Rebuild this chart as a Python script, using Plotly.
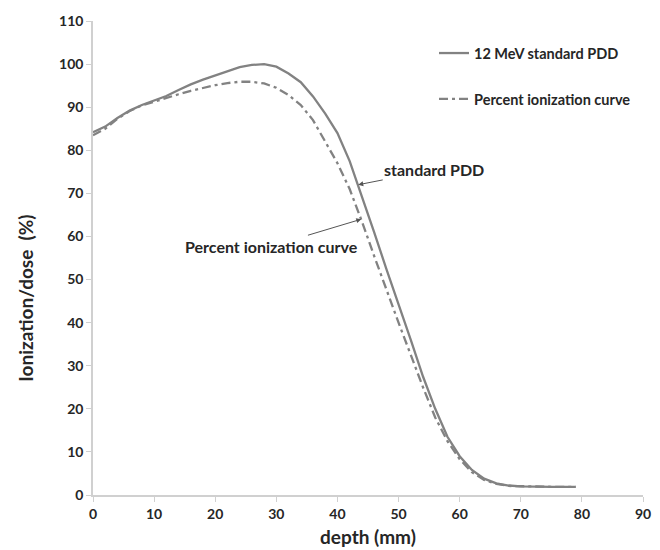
import plotly.graph_objects as go

depth = [0, 2, 4, 6, 8, 10, 12, 14, 16, 18, 20, 22, 24, 26, 28, 30, 32, 34, 36, 38,
         40, 42, 44, 46, 48, 50, 52, 54, 56, 58, 60, 62, 64, 66, 68, 70, 72, 75, 79]
pdd = [84.2, 85.5, 87.5, 89.2, 90.5, 91.5, 92.6, 94.0, 95.3, 96.4, 97.4, 98.4, 99.3, 99.8,
       100.0, 99.4, 97.8, 95.8, 92.5, 88.5, 84.0, 77.5, 69.5, 61.0, 52.5, 44.5, 36.0, 27.5,
       20.0, 13.5, 9.0, 5.8, 3.8, 2.7, 2.2, 2.0, 1.9, 1.9, 1.9]
ionization = [83.5, 85.0, 87.3, 89.1, 90.4, 91.3, 92.2, 93.0, 93.8, 94.5, 95.1, 95.6, 95.9,
              95.9, 95.5, 94.5, 92.8, 90.5, 87.0, 82.0, 77.0, 71.0, 63.5, 55.5, 47.5, 40.0,
              32.5, 25.0, 18.0, 12.5, 8.3, 5.3, 3.5, 2.6, 2.1, 2.0, 1.9, 1.9, 1.9]

x_ticks = [0, 10, 20, 30, 40, 50, 60, 70, 80, 90]
y_ticks = [0, 10, 20, 30, 40, 50, 60, 70, 80, 90, 100, 110]

FONT = "Lato"
TXT = "#262626"
LINE = "#828282"

fig = go.Figure()
fig.add_trace(go.Scatter(x=depth, y=pdd, mode="lines", name="12 MeV standard PDD",
                         legendgroup="a",
                         line=dict(color=LINE, width=2.3)))
fig.add_trace(go.Scatter(x=depth, y=ionization, mode="lines", name="Percent ionization curve",
                         legendgroup="b",
                         line=dict(color=LINE, width=2.3, dash="9px,4px,3px,4px")))

fig.add_annotation(x=43.4, y=72, ax=76, ay=-15, text="standard PDD", showarrow=True,
                   arrowhead=2, arrowsize=1, arrowwidth=1, arrowcolor="#555",
                   font=dict(family=FONT, size=16, color=TXT, weight="bold"))
fig.add_annotation(x=43.9, y=64, ax=-90, ay=27, text="Percent ionization curve",
                   showarrow=True, arrowhead=2, arrowsize=1, arrowwidth=1, arrowcolor="#555",
                   font=dict(family=FONT, size=16, color=TXT, weight="bold"))
# y-axis title (placed like the original, below the axis centre)
fig.add_annotation(xref="paper", yref="paper", x=-0.122, y=0.416, xanchor="center",
                   yanchor="middle", textangle=-90, showarrow=False,
                   text="Ionization/dose  (%)",
                   font=dict(family=FONT, size=19, color=TXT, weight="bold"))

axis_common = dict(showline=True, linecolor="#d0d0d0", linewidth=1.5, showgrid=False,
                   zeroline=False, ticks="outside", tickcolor="#d0d0d0", ticklen=5,
                   automargin=False,
                   tickfont=dict(family=FONT, size=14, color=TXT, weight="bold"))

fig.update_xaxes(range=[0, 90], tickvals=x_ticks,
                 title=dict(text="depth (mm)", standoff=10,
                            font=dict(family=FONT, size=19, color=TXT, weight="bold")),
                 **axis_common)
fig.update_yaxes(range=[0, 110], tickvals=y_ticks, **axis_common)

fig.update_layout(
    width=660, height=550,
    margin=dict(l=85, r=25, t=13, b=63, autoexpand=False),
    plot_bgcolor="white", paper_bgcolor="white",
    showlegend=True,
    legend=dict(x=0.62, y=0.966, xanchor="left", yanchor="top",
                tracegroupgap=24, bgcolor="rgba(0,0,0,0)",
                font=dict(family=FONT, size=14.5, color=TXT, weight="bold")),
)

fig.write_html("out.html")
